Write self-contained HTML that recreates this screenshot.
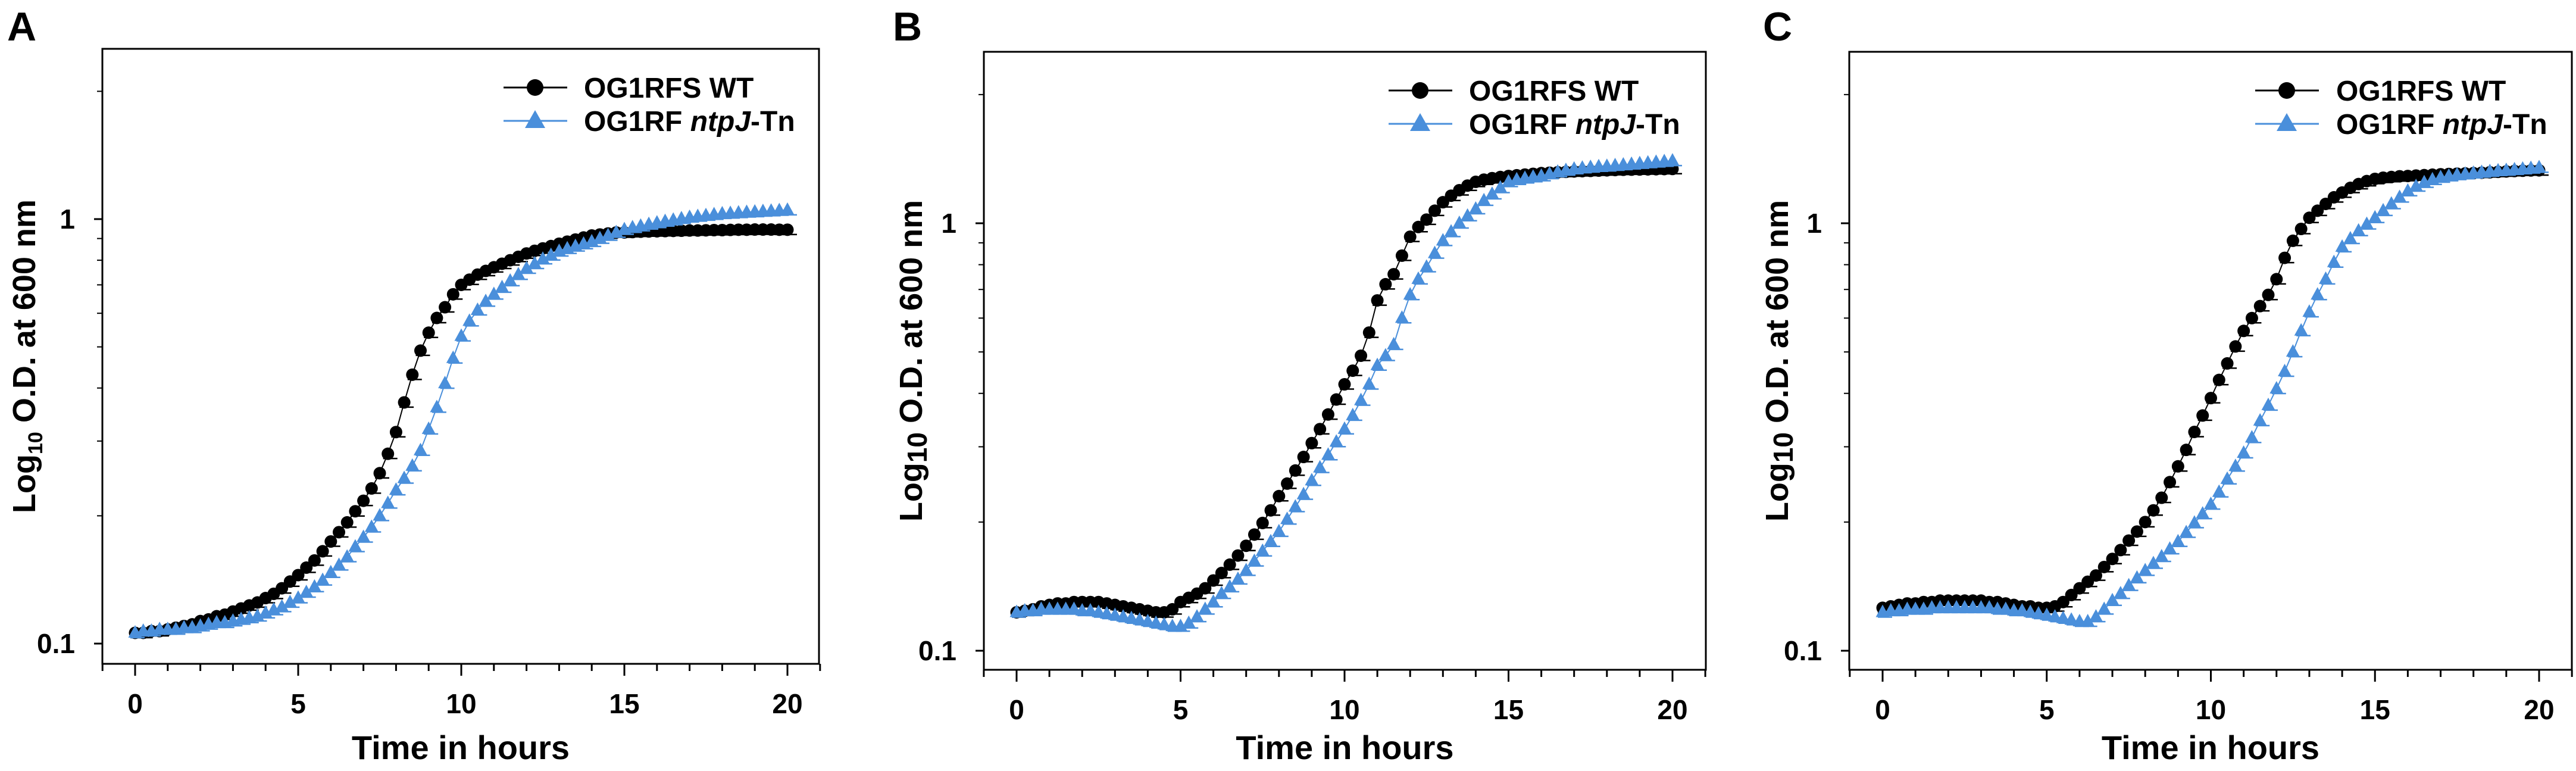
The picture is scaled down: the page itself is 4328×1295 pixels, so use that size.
<!DOCTYPE html>
<html><head><meta charset="utf-8"><style>
html,body{margin:0;padding:0;background:#fff;}
svg{display:block;font-family:"Liberation Sans",Arial,sans-serif;font-weight:bold;}
</style></head><body>
<svg id="fig" width="4328" height="1295" viewBox="0 0 4328 1295" xmlns="http://www.w3.org/2000/svg"></svg>
<script>
const hours = [];
for (let i = 0; i <= 80; i++) hours.push(i * 0.25);
const xTicksMajor = [0, 5, 10, 15, 20];
const yTickLabels = ["0.1", "1"];
const yTickValues = [0.1, 1];
const yMinorValues = [0.2,0.3,0.4,0.5,0.6,0.7,0.8,0.9,2];
const panelLabels = ["A", "B", "C"];
const legendLabels = ["OG1RFS WT", "OG1RF ntpJ-Tn"];

const wtA = [0.106,0.106,0.107,0.107,0.108,0.109,0.110,0.111,0.113,0.114,0.116,0.117,0.119,0.121,0.123,0.125,0.128,0.131,0.135,0.140,0.145,0.151,0.157,0.165,0.174,0.183,0.193,0.205,0.217,0.232,0.252,0.280,0.315,0.370,0.430,0.490,0.540,0.585,0.620,0.665,0.700,0.720,0.740,0.755,0.770,0.785,0.800,0.815,0.830,0.842,0.853,0.864,0.875,0.885,0.895,0.905,0.915,0.920,0.925,0.930,0.930,0.932,0.934,0.935,0.936,0.937,0.938,0.939,0.940,0.940,0.941,0.942,0.942,0.943,0.944,0.944,0.945,0.945,0.945,0.944,0.944];
const mutA = [0.106,0.107,0.107,0.108,0.108,0.108,0.109,0.109,0.110,0.111,0.112,0.112,0.113,0.114,0.115,0.116,0.118,0.120,0.122,0.125,0.128,0.132,0.136,0.141,0.147,0.153,0.160,0.169,0.178,0.188,0.200,0.214,0.230,0.245,0.262,0.285,0.320,0.360,0.410,0.470,0.530,0.575,0.610,0.640,0.665,0.690,0.715,0.740,0.765,0.785,0.805,0.822,0.840,0.852,0.863,0.874,0.885,0.900,0.915,0.930,0.945,0.955,0.963,0.972,0.980,0.988,0.995,1.003,1.010,1.015,1.020,1.025,1.030,1.032,1.035,1.038,1.040,1.043,1.045,1.048,1.050];
const wtB = [0.123,0.124,0.125,0.127,0.128,0.129,0.129,0.130,0.130,0.130,0.130,0.129,0.128,0.127,0.126,0.125,0.124,0.123,0.123,0.125,0.130,0.133,0.136,0.140,0.146,0.152,0.159,0.167,0.176,0.187,0.199,0.213,0.230,0.246,0.264,0.284,0.306,0.330,0.357,0.387,0.420,0.452,0.490,0.555,0.660,0.720,0.760,0.840,0.930,0.980,1.020,1.070,1.120,1.160,1.195,1.225,1.250,1.265,1.275,1.283,1.290,1.295,1.300,1.305,1.310,1.313,1.316,1.319,1.322,1.324,1.326,1.328,1.330,1.332,1.334,1.335,1.336,1.337,1.338,1.339,1.340];
const mutB = [0.123,0.124,0.124,0.125,0.125,0.125,0.125,0.125,0.124,0.124,0.123,0.122,0.121,0.120,0.119,0.118,0.117,0.116,0.115,0.114,0.114,0.116,0.120,0.125,0.130,0.136,0.141,0.147,0.154,0.162,0.171,0.180,0.190,0.203,0.217,0.232,0.250,0.268,0.287,0.308,0.330,0.355,0.385,0.420,0.465,0.490,0.520,0.600,0.680,0.740,0.790,0.850,0.910,0.955,1.000,1.040,1.080,1.130,1.170,1.210,1.250,1.265,1.275,1.283,1.290,1.305,1.318,1.330,1.340,1.347,1.352,1.357,1.360,1.365,1.370,1.375,1.380,1.385,1.390,1.395,1.400];
const wtC = [0.126,0.127,0.128,0.129,0.129,0.130,0.130,0.131,0.131,0.131,0.131,0.131,0.131,0.130,0.130,0.129,0.128,0.127,0.127,0.126,0.126,0.127,0.130,0.135,0.140,0.145,0.150,0.157,0.164,0.172,0.181,0.190,0.200,0.213,0.228,0.248,0.270,0.295,0.325,0.355,0.390,0.430,0.470,0.515,0.560,0.600,0.640,0.680,0.740,0.830,0.910,0.970,1.030,1.070,1.110,1.150,1.180,1.210,1.235,1.255,1.270,1.278,1.283,1.288,1.290,1.293,1.296,1.299,1.302,1.304,1.306,1.308,1.310,1.313,1.316,1.319,1.322,1.325,1.327,1.329,1.330];
const mutC = [0.123,0.124,0.124,0.125,0.125,0.125,0.126,0.126,0.126,0.126,0.126,0.126,0.126,0.126,0.125,0.125,0.124,0.124,0.123,0.122,0.121,0.120,0.119,0.118,0.117,0.117,0.120,0.125,0.131,0.136,0.142,0.148,0.154,0.160,0.166,0.173,0.180,0.189,0.199,0.209,0.220,0.235,0.252,0.270,0.290,0.315,0.345,0.375,0.410,0.450,0.500,0.560,0.620,0.680,0.740,0.810,0.880,0.920,0.960,0.995,1.030,1.070,1.110,1.150,1.190,1.220,1.245,1.265,1.280,1.290,1.298,1.304,1.310,1.316,1.322,1.327,1.330,1.335,1.340,1.345,1.350];

const panels = [
  {label:"A", wt:wtA, mut:mutA, left:172, right:1376, top:82, bottom:1115, x0:227, x20:1323, y1:368, y01:1081, letterX:12, titleX:40, legLine:846, legText:981, legY:147, sub:true},
  {label:"B", wt:wtB, mut:mutB, left:1653, right:2866, top:87, bottom:1125, x0:1708, x20:2810, y1:375, y01:1093, letterX:1500, titleX:1530, legLine:2333, legText:2468, legY:152, sub:false},
  {label:"C", wt:wtC, mut:mutC, left:3107, right:4321, top:87, bottom:1125, x0:3163, x20:4266, y1:375, y01:1093, letterX:2962, titleX:2985, legLine:3789, legText:3925, legY:152, sub:false}
];
const NS = "http://www.w3.org/2000/svg";
const svg = document.getElementById("fig");
const BLUE = "#4a8fdb";
function mk(tag, attrs, parent){const e=document.createElementNS(NS,tag);for(const k in attrs)e.setAttribute(k,attrs[k]);(parent||svg).appendChild(e);return e;}

panels.forEach((p, pi) => {
  const g = mk("g", {});
  
  
  const xs = t => p.x0 + (p.x20 - p.x0) * t / 20;
  const ys = v => p.y01 - (p.y01 - p.y1) * (Math.log10(v) + 1);

  const letter = mk("text", {x:p.letterX, y:68, "font-size":68}, g);
  letter.textContent = panelLabels[pi];
  
  

  const frame = mk("rect", {x:p.left, y:p.top, width:p.right-p.left, height:p.bottom-p.top, fill:"none", stroke:"#000", "stroke-width":3}, g);
  
  

  for (let t = -1; t <= 21; t++) {
    const major = xTicksMajor.includes(t);
    const tk = mk("line", {x1:xs(t), x2:xs(t), y1:p.bottom, y2:p.bottom + (major?20:12), stroke:"#000", "stroke-width":3}, g);
    
    
  }
  xTicksMajor.forEach(t => {
    const lb = mk("text", {x:xs(t), y:p.bottom+83, "font-size":46, "text-anchor":"middle"}, g);
    lb.textContent = String(t);
    
    
  });
  yTickValues.forEach((v, i) => {
    const tk = mk("line", {x1:p.left-14, x2:p.left, y1:ys(v), y2:ys(v), stroke:"#000", "stroke-width":3}, g);
    
    
    const lb = mk("text", {x:p.left-46, y:ys(v)+16, "font-size":46, "text-anchor":"end"}, g);
    lb.textContent = yTickLabels[i];
    
    
  });
  yMinorValues.forEach(v => {
    const tk = mk("line", {x1:p.left-9, x2:p.left, y1:ys(v), y2:ys(v), stroke:"#000", "stroke-width":2}, g);
    
    
  });

  const xt = mk("text", {x:(p.left+p.right)/2, y:1275, "font-size":56, "text-anchor":"middle"}, g);
  xt.textContent = "Time in hours";
  
  

  const cy = (p.top + p.bottom) / 2;
  const yt = mk("text", {x:p.titleX+19, y:cy, "font-size":54, "text-anchor":"middle", transform:`rotate(-90 ${p.titleX+19} ${cy})`}, g);
  
  
  yt.appendChild(document.createTextNode("Log"));
  const sub = mk("tspan", {"font-size":p.sub?34:46, dy:p.sub?12:8}, yt);
  sub.textContent = "10";
  const rest = mk("tspan", {dy:p.sub?-12:-8}, yt);
  rest.textContent = " O.D. at 600 nm";

  const series = [{vals:p.wt, color:"#000", shape:"circle", name:"wt"}, {vals:p.mut, color:BLUE, shape:"tri", name:"mutant"}];
  series.forEach(s => {
    const sg = mk("g", {}, g);
    
    
    const pts = s.vals.map((v, i) => xs(hours[i]).toFixed(1) + "," + ys(v).toFixed(1)).join(" ");
    const ln = mk("polyline", {points:pts, fill:"none", stroke:s.color, "stroke-width":2}, sg);
    
    
    s.vals.forEach((v, i) => {
      const x = xs(hours[i]), y = ys(v);
      const cap = mk("line", {x1:x-8, x2:x+16, y1:y+8, y2:y+8, stroke:s.color, "stroke-width":2.5}, sg);
      
      
      let m;
      if (s.shape === "circle") m = mk("circle", {cx:x, cy:y, r:10.5, fill:s.color}, sg);
      else m = mk("polygon", {points:`${x},${y-13} ${x-11.5},${y+8} ${x+11.5},${y+8}`, fill:s.color}, sg);
      
      
    });
  });

  const lg = mk("g", {}, g);
  
  
  [0, 1].forEach(k => {
    const y = p.legY + k * 56;
    const col = k === 0 ? "#000" : BLUE;
    const l = mk("line", {x1:p.legLine, x2:p.legLine+107, y1:y, y2:y, stroke:col, "stroke-width":3}, lg);
    
    
    const cx = p.legLine + 53;
    let m;
    if (k === 0) m = mk("circle", {cx:cx, cy:y, r:14, fill:col}, lg);
    else m = mk("polygon", {points:`${cx},${y-18} ${cx-17},${y+12} ${cx+17},${y+12}`, fill:col}, lg);
    
    
    const tx = mk("text", {x:p.legText, y:y+17, "font-size":48}, lg);
    
    
    if (k === 0) tx.textContent = legendLabels[0];
    else {
      tx.appendChild(document.createTextNode("OG1RF "));
      const it = mk("tspan", {"font-style":"italic"}, tx); it.textContent = "ntpJ";
      tx.appendChild(document.createTextNode("-Tn"));
    }
  });
});
</script>
</body></html>
